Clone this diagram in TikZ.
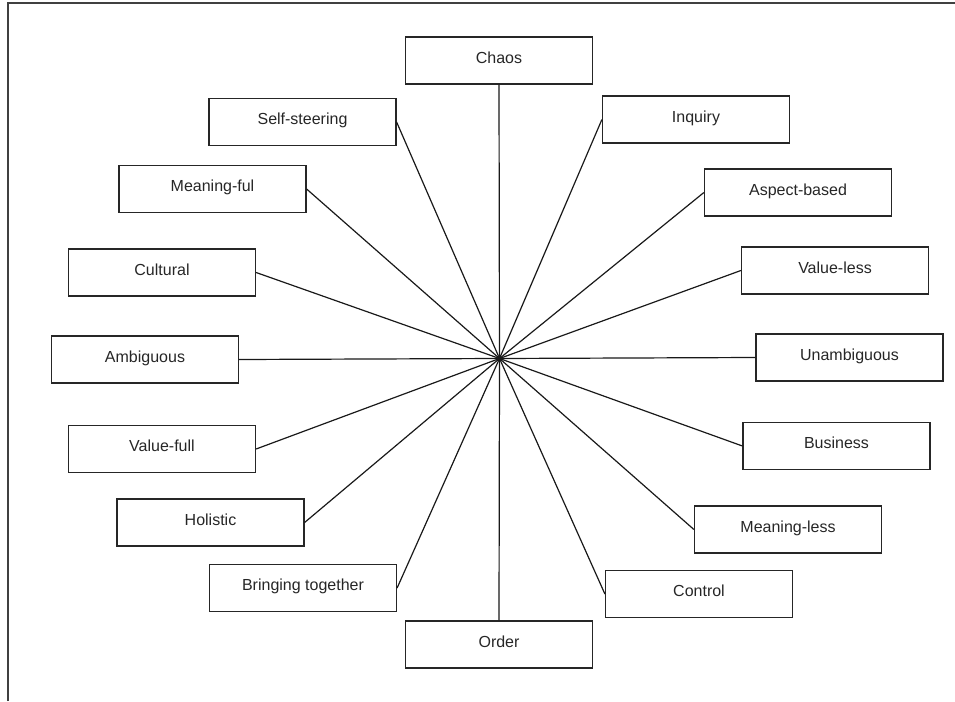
\documentclass[tikz,border=0pt]{standalone}
\usepackage{fontspec}
\setmainfont{Liberation Sans}
\begin{document}
\begin{tikzpicture}[x=1pt, y=-1pt, boxStyle/.style={rectangle, draw=black!85, line width=1.2pt, minimum width=187pt, minimum height=47pt, inner sep=0pt, text=black!85, font=\fontsize{16}{19}\selectfont, text height=11.5pt, text depth=6pt}, spokeStyle/.style={draw=black!90, line width=1.2pt}]
    \useasboundingbox (0,0) rectangle (955,701);
    \draw[black!75, line width=1.2pt] (8,701) -- (8,3) -- (955,3);

    \coordinate (hub) at (499.5, 358.5);

    \node[boxStyle] (n_chaos)        at (499,   60.5) {Chaos};
    \node[boxStyle] (n_inquiry)      at (696,  119.5) {Inquiry};
    \node[boxStyle] (n_aspect)       at (798,  192.5) {Aspect-based};
    \node[boxStyle] (n_valueless)    at (835,  270.5) {Value-less};
    \node[boxStyle] (n_unambiguous)  at (849.5,357.5) {Unambiguous};
    \node[boxStyle] (n_business)     at (836.5,446)   {Business};
    \node[boxStyle] (n_meaningless)  at (788,  529.5) {Meaning-less};
    \node[boxStyle] (n_control)      at (699,  594)   {Control};
    \node[boxStyle] (n_order)        at (499,  644.5) {Order};
    \node[boxStyle] (n_together)     at (303,  588)   {Bringing together};
    \node[boxStyle] (n_holistic)     at (210.5,522.5) {Holistic};
    \node[boxStyle] (n_valuefull)    at (162,  449)   {Value-full};
    \node[boxStyle] (n_ambiguous)    at (145,  359.5) {Ambiguous};
    \node[boxStyle] (n_cultural)     at (162,  272.5) {Cultural};
    \node[boxStyle] (n_meaningful)   at (212.5,189)   {Meaning-ful};
    \node[boxStyle] (n_selfsteering) at (302.5,122)   {Self-steering};

    \draw[spokeStyle] (hub) -- (n_chaos.south);
    \draw[spokeStyle] (hub) -- (n_inquiry.west);
    \draw[spokeStyle] (hub) -- (n_aspect.west);
    \draw[spokeStyle] (hub) -- (n_valueless.west);
    \draw[spokeStyle] (hub) -- (n_unambiguous.west);
    \draw[spokeStyle] (hub) -- (n_business.west);
    \draw[spokeStyle] (hub) -- (n_meaningless.west);
    \draw[spokeStyle] (hub) -- (n_control.west);
    \draw[spokeStyle] (hub) -- (n_order.north);
    \draw[spokeStyle] (hub) -- (n_together.east);
    \draw[spokeStyle] (hub) -- (n_holistic.east);
    \draw[spokeStyle] (hub) -- (n_valuefull.east);
    \draw[spokeStyle] (hub) -- (n_ambiguous.east);
    \draw[spokeStyle] (hub) -- (n_cultural.east);
    \draw[spokeStyle] (hub) -- (n_meaningful.east);
    \draw[spokeStyle] (hub) -- (n_selfsteering.east);
\end{tikzpicture}
\end{document}
